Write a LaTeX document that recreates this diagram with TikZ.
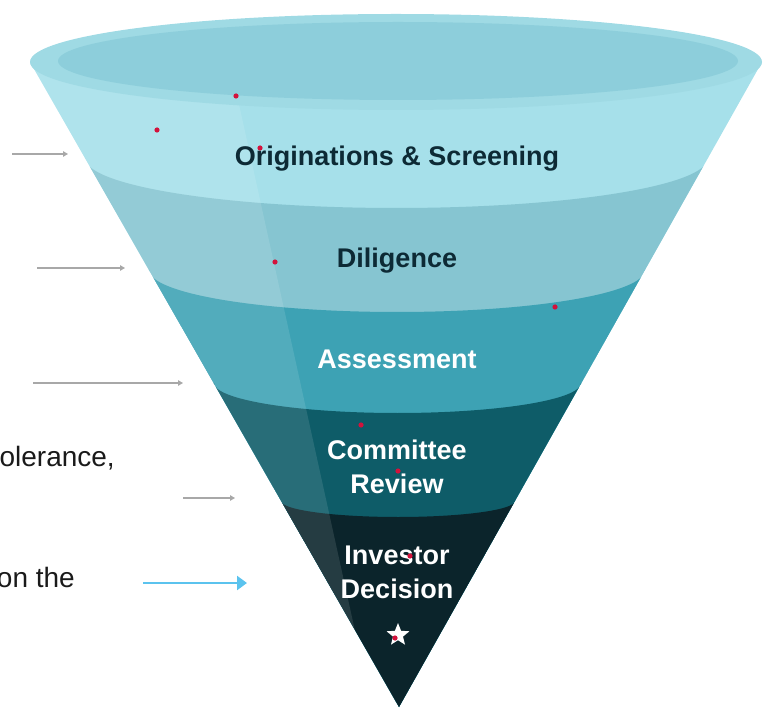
\documentclass[tikz,border=0pt]{standalone}
\usepackage{fontspec}
\setmainfont{Liberation Sans}
\usetikzlibrary{arrows.meta,shapes.geometric}
\definecolor{rimtop}{HTML}{9FDAE4}
\definecolor{rimin}{HTML}{8DCEDB}
\definecolor{bandone}{HTML}{A6E0EA}
\definecolor{bandtwo}{HTML}{86C5D1}
\definecolor{bandthree}{HTML}{3DA2B4}
\definecolor{bandfour}{HTML}{0E5C68}
\definecolor{bandfive}{HTML}{0B242B}
\definecolor{labeldark}{HTML}{0D2A35}
\definecolor{notetext}{HTML}{1A1A1A}
\definecolor{arrowgrey}{HTML}{A8A8A8}
\definecolor{arrowblue}{HTML}{5BC3EE}
\definecolor{dotred}{HTML}{D3123C}
\tikzset{
  stage/.style={font=\bfseries\fontsize{27}{34}\selectfont,align=center,inner sep=0pt,anchor=base},
  darklabel/.style={stage,text=labeldark},
  lightlabel/.style={stage,text=white},
  note/.style={font=\fontsize{28}{34}\selectfont,text=notetext,inner sep=0pt,anchor=base east},
  pointer/.style={draw=arrowgrey,line width=1.2pt,-{Triangle[length=5pt,width=5.5pt]}},
  keyarrow/.style={draw=arrowblue,line width=2.4pt,-{Triangle[length=10pt,width=14pt]}}
}
\begin{document}
\begin{tikzpicture}[x=1pt,y=-1pt]
       \useasboundingbox (0,0) rectangle (768,708);
       \begin{scope}
          \clip (30,62) -- (399,707) -- (762,62) -- cycle;
          \fill [bandone] (0,0) rectangle (768,708);
          \fill [bandtwo] (0,158) -- (85,158)
             arc [start angle=180,end angle=0,x radius=311.5,y radius=50]
             -- (768,158) -- (768,708) -- (0,708) -- cycle;
          \fill [bandthree] (0,270) -- (149,270)
             arc [start angle=180,end angle=0,x radius=248,y radius=42]
             -- (768,270) -- (768,708) -- (0,708) -- cycle;
          \fill [bandfour] (0,383) -- (214,383)
             arc [start angle=180,end angle=0,x radius=183.5,y radius=30]
             -- (768,383) -- (768,708) -- (0,708) -- cycle;
          \fill [bandfive] (0,501) -- (281,501)
             arc [start angle=180,end angle=0,x radius=117,y radius=16]
             -- (768,501) -- (768,708) -- (0,708) -- cycle;
          \fill [white,opacity=.11] (0,0) -- (216,0) -- (372,708) -- (0,708) -- cycle;
       \end{scope}
       \fill [rimtop] (396,62) ellipse [x radius=366,y radius=48];
       \fill [rimin] (398,61) ellipse [x radius=340,y radius=39];
       \node at (397,166) [darklabel] (origination) {Originations \& Screening};
       \node at (397,268) [darklabel] (diligence) {Diligence};
       \node at (397,368) [lightlabel] (assessment) {Assessment};
       \node at (397,493) [lightlabel] (committee) {Committee\\Review};
       \node at (397,598) [lightlabel] (decision) {Investor\\Decision};
       \node at (398,635) [star,star points=5,star point ratio=2.3,fill=white,
          minimum size=24pt,inner sep=0pt] (goal) {};
       \foreach \pt in {(236,96),(157,130),(260,148),(275,262),(555,307),
          (361,425),(398,471),(410,556),(395,638)}
          \fill [dotred] \pt circle [radius=2.6];
       \node at (115,466) [note] (tolerance) {olerance,};
       \node at (75,587) [note] (onthe) {on the};
       \coordinate (from1) at (12,154);  \coordinate (to1) at (68,154);
       \coordinate (from2) at (37,268);  \coordinate (to2) at (125,268);
       \coordinate (from3) at (33,383);  \coordinate (to3) at (183,383);
       \coordinate (from4) at (183,498); \coordinate (to4) at (235,498);
       \coordinate (from5) at (143,583); \coordinate (to5) at (247,583);
       \draw [pointer] (from1) -- (to1);
       \draw [pointer] (from2) -- (to2);
       \draw [pointer] (from3) -- (to3);
       \draw [pointer] (from4) -- (to4);
       \draw [keyarrow] (from5) -- (to5);
      \end{tikzpicture}
\end{document}
